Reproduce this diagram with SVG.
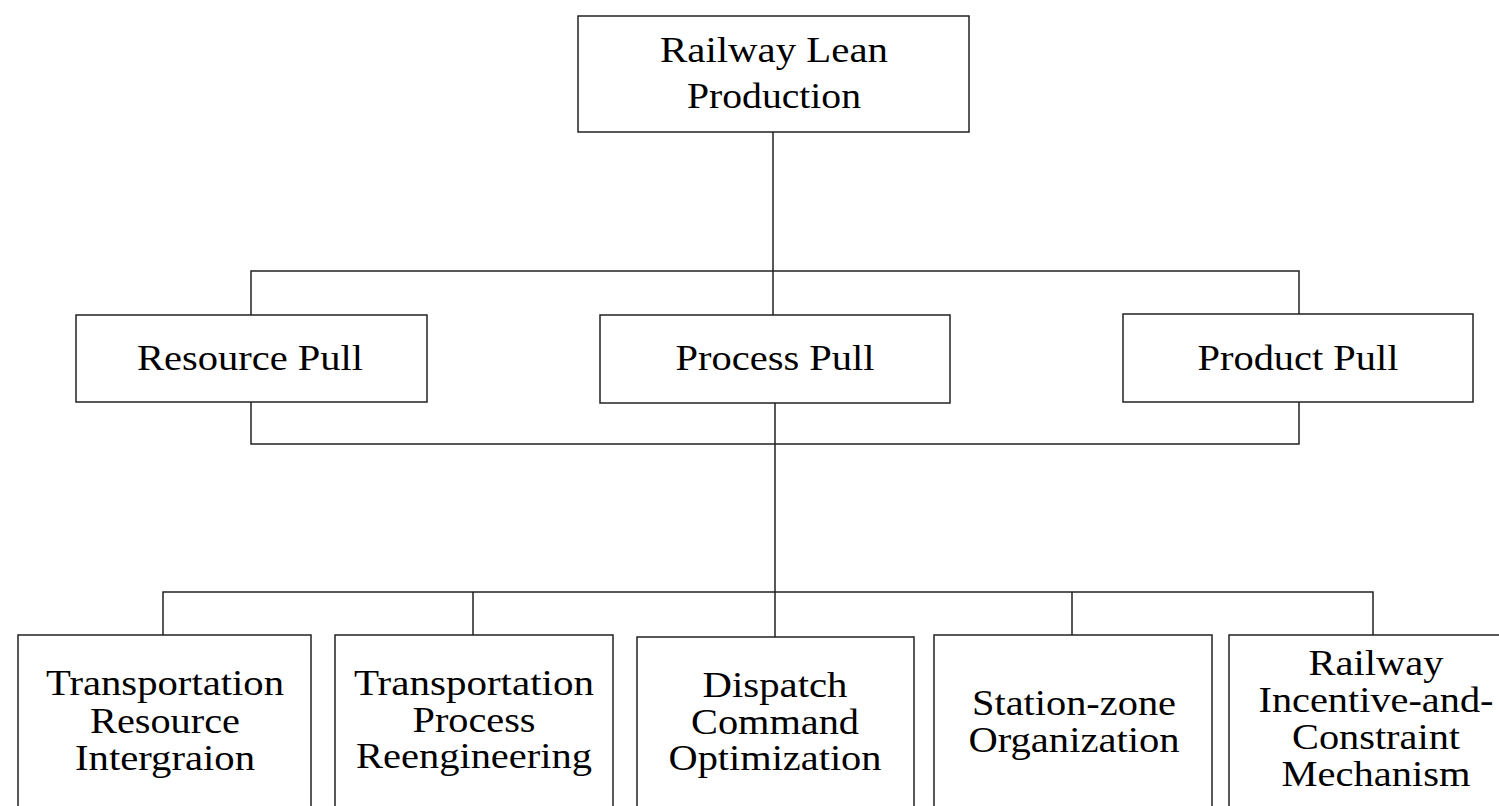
<svg xmlns="http://www.w3.org/2000/svg" width="1499" height="806" viewBox="0 0 1499 806">
<style>
.box{fill:#fff;stroke:#222;stroke-width:1.5}
.con{fill:none;stroke:#222;stroke-width:1.5}
text{font-family:"Liberation Serif","Times New Roman",serif;font-size:35px;fill:#000;text-anchor:middle}
</style>
<rect width="1499" height="806" fill="#fff"/>
<g id="connectors">
<path class="con" d="M773,132 V315 M251,315 V271 H1299 V314"/>
<path class="con" d="M251,402 V444 H1299 V402 M775,403 V637"/>
<path class="con" d="M163,635 V592 H1373 V635 M473,592 V635 M1072,592 V635"/>
</g>
<g id="n-root">
<rect class="box" x="578" y="16" width="391" height="116"/>
<text x="774" y="62" textLength="228" lengthAdjust="spacingAndGlyphs">Railway Lean</text>
<text x="774" y="108" textLength="174" lengthAdjust="spacingAndGlyphs">Production</text>
</g>
<g id="n-resource">
<rect class="box" x="76" y="315" width="351" height="87"/>
<text x="250" y="370" textLength="226" lengthAdjust="spacingAndGlyphs">Resource Pull</text>
</g>
<g id="n-process">
<rect class="box" x="600" y="315" width="350" height="88"/>
<text x="775" y="370" textLength="199" lengthAdjust="spacingAndGlyphs">Process Pull</text>
</g>
<g id="n-product">
<rect class="box" x="1123" y="314" width="350" height="88"/>
<text x="1298" y="370" textLength="201" lengthAdjust="spacingAndGlyphs">Product Pull</text>
</g>
<g id="n-tri">
<rect class="box" x="18" y="635" width="293" height="190"/>
<text x="165" y="695" textLength="238" lengthAdjust="spacingAndGlyphs">Transportation</text>
<text x="165" y="733" textLength="150" lengthAdjust="spacingAndGlyphs">Resource</text>
<text x="165" y="770" textLength="180" lengthAdjust="spacingAndGlyphs">Intergraion</text>
</g>
<g id="n-tpr">
<rect class="box" x="335" y="635" width="278" height="190"/>
<text x="474" y="695" textLength="240" lengthAdjust="spacingAndGlyphs">Transportation</text>
<text x="474" y="732" textLength="123" lengthAdjust="spacingAndGlyphs">Process</text>
<text x="474" y="768" textLength="236" lengthAdjust="spacingAndGlyphs">Reengineering</text>
</g>
<g id="n-dco">
<rect class="box" x="637" y="637" width="277" height="190"/>
<text x="775" y="697" textLength="145" lengthAdjust="spacingAndGlyphs">Dispatch</text>
<text x="775" y="734" textLength="168" lengthAdjust="spacingAndGlyphs">Command</text>
<text x="775" y="770" textLength="213" lengthAdjust="spacingAndGlyphs">Optimization</text>
</g>
<g id="n-szo">
<rect class="box" x="934" y="635" width="278" height="190"/>
<text x="1074" y="715" textLength="204" lengthAdjust="spacingAndGlyphs">Station-zone</text>
<text x="1074" y="752" textLength="211" lengthAdjust="spacingAndGlyphs">Organization</text>
</g>
<g id="n-ricm">
<rect class="box" x="1229" y="635" width="294" height="190"/>
<text x="1376" y="675" textLength="135" lengthAdjust="spacingAndGlyphs">Railway</text>
<text x="1376" y="712" textLength="235" lengthAdjust="spacingAndGlyphs">Incentive-and-</text>
<text x="1376" y="749" textLength="168" lengthAdjust="spacingAndGlyphs">Constraint</text>
<text x="1376" y="786" textLength="189" lengthAdjust="spacingAndGlyphs">Mechanism</text>
</g>
</svg>
